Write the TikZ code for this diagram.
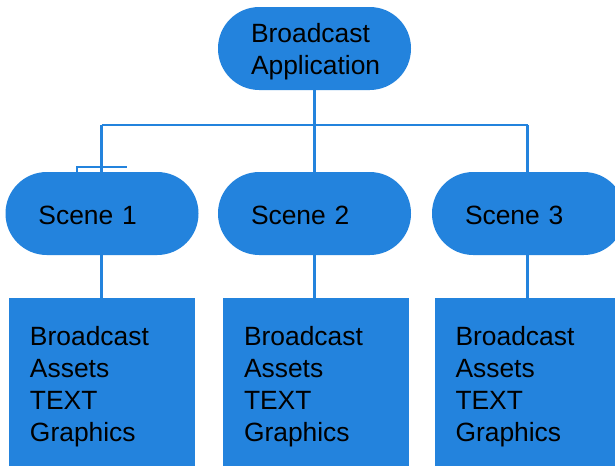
\documentclass[tikz,border=0pt]{standalone}
\usepackage{fontspec}
\setmainfont{Liberation Sans}
\definecolor{bblue}{HTML}{2383DD}
\begin{document}
\begin{tikzpicture}[x=0.75pt,y=-0.75pt,
  txt/.style={font=\fontsize{19.8}{24}\selectfont, text=black, align=left},
  pillshape/.style={txt, fill=bblue, draw=none, rounded corners=31pt,
    minimum height=62.25pt, inner xsep=24.75pt, text width=95.25pt},
  pill/.style={pillshape, execute at begin node={\rule{0pt}{19pt}}},
  scenepill/.style={pillshape, execute at begin node={\rule{0pt}{17pt}}},
  asset/.style={txt, fill=bblue, draw=none, minimum height=129pt,
    inner xsep=15.75pt, text width=108pt,
    execute at begin node={\rule{0pt}{19pt}}},
  conn/.style={draw=bblue, line width=1.8pt}]
\path[use as bounding box] (0,0) rectangle (615,465);
\clip (0,0) rectangle (615,465);
\fill[white] (0,0) rectangle (615,465);

\node[pill] (app) at (314.5,48.5) {Broadcast\\Application};
\node[scenepill] (s1) at (102,213.5) {Scene 1};
\node[scenepill] (s2) at (314.5,213.5) {Scene 2};
\node[scenepill] (s3) at (528.5,213.5) {Scene 3};
\node[asset] (b1) at (102,384) {Broadcast\\Assets\\TEXT\\Graphics};
\node[asset] (b2) at (316,384) {Broadcast\\Assets\\TEXT\\Graphics};
\node[asset] (b3) at (527.5,384) {Broadcast\\Assets\\TEXT\\Graphics};

\coordinate (hl) at (101.5,125);
\coordinate (hr) at (527.5,125);
\coordinate (tl) at (77,167);
\coordinate (tr) at (127,167);

\draw[conn] (app.south) -- (app.south |- s2.north);
\draw[conn] (hl) -- (hr);
\draw[conn] (hl) -- (hl |- s1.north);
\draw[conn] (tl |- s1.north) -- (tl) -- (tr);
\draw[conn] (hr) -- (hr |- s3.north);
\draw[conn] (s1.south -| hl) -- (b1.north -| hl);
\draw[conn] (s2.south) -- (s2.south |- b2.north);
\draw[conn] (s3.south -| hr) -- (b3.north -| hr);
\end{tikzpicture}
\end{document}
